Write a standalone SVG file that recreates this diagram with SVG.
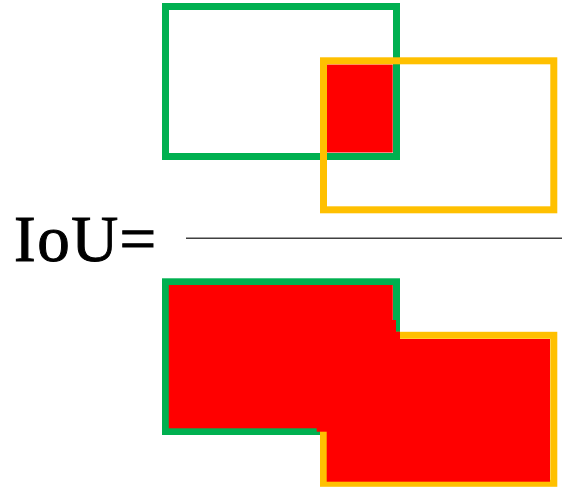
<svg xmlns="http://www.w3.org/2000/svg" width="562" height="488" viewBox="0 0 562 488">
<style>
.g{fill:none;stroke:#00B050;stroke-width:7}
.y{fill:none;stroke:#FFC000;stroke-width:7}
.r{fill:#FF0000}
.t{font-family:"Liberation Serif","DejaVu Serif",serif;font-size:65px;fill:#000;stroke:#000;stroke-width:1}
</style>
<rect width="562" height="488" fill="#fff"/>
<g id="intersection">
<rect class="r" x="326.7" y="64.5" width="66" height="88"/>
<rect class="g" x="165.5" y="6.5" width="231" height="150"/>
<rect class="y" x="323.5" y="60.8" width="230.3" height="149"/>
</g>
<g id="label">
<text class="t" x="14" y="261" letter-spacing="1.5">IoU=</text>
</g>
<g id="connectors">
<line x1="186" y1="238.3" x2="562" y2="238.3" stroke="#404040" stroke-width="1.6"/>
</g>
<g id="union">
<rect class="g" x="165.5" y="281.8" width="231" height="149.7"/>
<rect class="y" x="323.5" y="335.3" width="230.3" height="148"/>
<rect class="r" x="168.8" y="285" width="224" height="143.3"/>
<rect class="r" x="326.7" y="339" width="223.3" height="142.7"/>
<rect class="r" x="392" y="320" width="4" height="20"/>
<rect class="r" x="392" y="331.7" width="8" height="8"/>
<rect class="r" x="316.7" y="427" width="11" height="4.7"/>
</g>
</svg>
